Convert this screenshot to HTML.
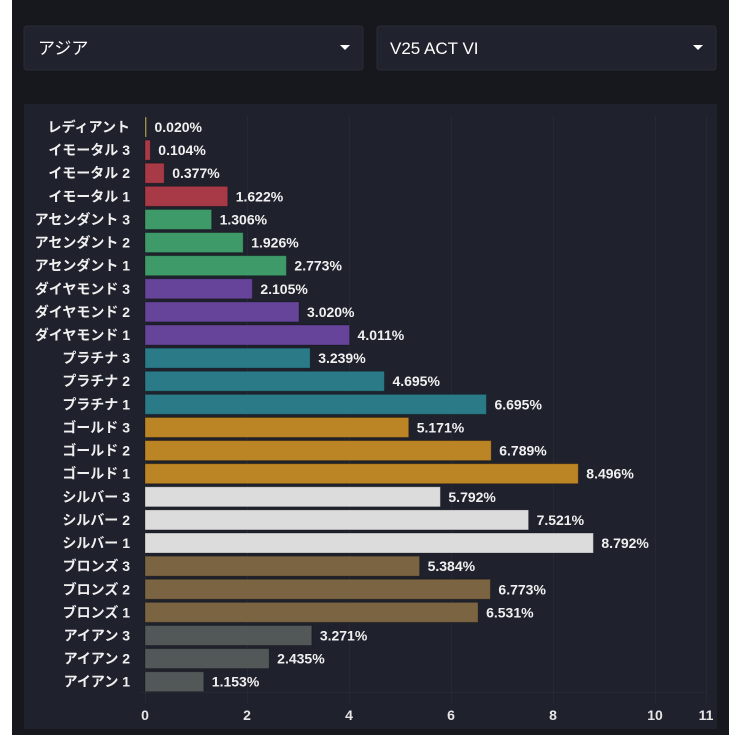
<!DOCTYPE html>
<html><head><meta charset="utf-8"><style>
body{margin:0;background:#fff;width:745px;height:747px;overflow:hidden;font-family:"Liberation Sans","Noto Sans CJK JP",sans-serif}
</style></head><body>
<svg width="745" height="747" xmlns="http://www.w3.org/2000/svg" style="position:absolute;left:0;top:0">
<rect x="12" y="0" width="717" height="735" fill="#16181d"/>
<rect x="24" y="26" width="339" height="44" rx="3" fill="#20232e" stroke="#2a2d38"/>
<rect x="377" y="26" width="339" height="44" rx="3" fill="#20232e" stroke="#2a2d38"/>
<text x="38" y="54" fill="#fff" font-size="17" font-family="Liberation Sans,Noto Sans CJK JP,sans-serif">アジア</text>
<text x="390" y="54" fill="#fff" font-size="17" font-family="Liberation Sans,sans-serif">V25 ACT VI</text>
<polygon points="340,45 350,45 345,50" fill="#fff"/>
<polygon points="693,45 703,45 698,50" fill="#fff"/>
<rect x="24" y="104" width="693" height="625" fill="#1f212c"/>
<g stroke="#262935" stroke-width="1">
<line x1="145.5" y1="115" x2="145.5" y2="703"/><line x1="247.5" y1="115" x2="247.5" y2="703"/><line x1="349.5" y1="115" x2="349.5" y2="703"/><line x1="451.5" y1="115" x2="451.5" y2="703"/><line x1="553.5" y1="115" x2="553.5" y2="703"/><line x1="655.5" y1="115" x2="655.5" y2="703"/><line x1="706.5" y1="115" x2="706.5" y2="703"/>
<line x1="140" y1="692.5" x2="706" y2="692.5"/>
</g>
<g fill="#e6e6e6" font-size="14" font-weight="bold" text-anchor="middle" font-family="Liberation Sans,sans-serif">
<text x="145" y="720">0</text><text x="247" y="720">2</text><text x="349" y="720">4</text><text x="451" y="720">6</text><text x="553" y="720">8</text><text x="655" y="720">10</text><text x="706" y="720">11</text>
</g>
<g id="bars" font-size="14" font-weight="bold" font-family="Liberation Sans,Noto Sans CJK JP,sans-serif"></g>
</svg>
<script>
var d=[["レディアント",0.020,"#b5a55a"],["イモータル 3",0.104,"#a83a48"],["イモータル 2",0.377,"#a83a48"],["イモータル 1",1.622,"#a83a48"],["アセンダント 3",1.306,"#3f9a6a"],["アセンダント 2",1.926,"#3f9a6a"],["アセンダント 1",2.773,"#3f9a6a"],["ダイヤモンド 3",2.105,"#66449a"],["ダイヤモンド 2",3.020,"#66449a"],["ダイヤモンド 1",4.011,"#66449a"],["プラチナ 3",3.239,"#2b7a87"],["プラチナ 2",4.695,"#2b7a87"],["プラチナ 1",6.695,"#2b7a87"],["ゴールド 3",5.171,"#bb8424"],["ゴールド 2",6.789,"#bb8424"],["ゴールド 1",8.496,"#bb8424"],["シルバー 3",5.792,"#dcdcdc"],["シルバー 2",7.521,"#dcdcdc"],["シルバー 1",8.792,"#dcdcdc"],["ブロンズ 3",5.384,"#7b6442"],["ブロンズ 2",6.773,"#7b6442"],["ブロンズ 1",6.531,"#7b6442"],["アイアン 3",3.271,"#525758"],["アイアン 2",2.435,"#525758"],["アイアン 1",1.153,"#525758"]];
var g=document.getElementById("bars"),s="";
var step=(681.7-127)/24;
d.forEach(function(r,i){var c=127+i*step;var w=Math.max(r[1]*51,1.5);
s+='<rect x="145" y="'+(c-10)+'" width="'+w+'" height="20" fill="'+r[2]+'" stroke="rgba(0,0,0,0.25)" stroke-width="1"/>';
s+='<text x="130" y="'+(c+5)+'" fill="#f0f0f0" text-anchor="end">'+r[0]+'</text>';
s+='<text x="'+(145+w+8)+'" y="'+(c+5)+'" fill="#f0f0f0">'+r[1].toFixed(3)+'%</text>';});
g.innerHTML=s;
</script>
</body></html>
